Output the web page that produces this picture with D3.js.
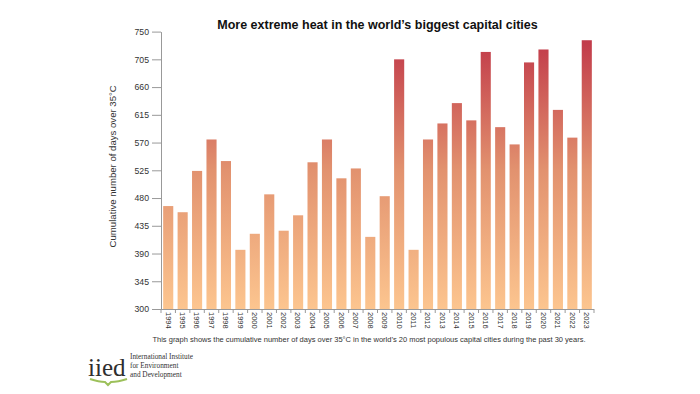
<!DOCTYPE html>
<html>
<head>
<meta charset="utf-8">
<script src="https://cdn.jsdelivr.net/npm/d3@7"></script>
<style>
  html, body { margin: 0; padding: 0; background: #fff; }
  svg { display: block; }
  text { font-family: "Liberation Sans", Arial, sans-serif; }
</style>
</head>
<body>
<div id="chart"></div>
<script>
// data
const years = ["1994", "1995", "1996", "1997", "1998", "1999", "2000", "2001", "2002", "2003",
  "2004", "2005", "2006", "2007", "2008", "2009", "2010", "2011", "2012", "2013",
  "2014", "2015", "2016", "2017", "2018", "2019", "2020", "2021", "2022", "2023"];
const hotDays = [467, 457, 524, 575, 540, 396, 422, 486, 427, 452,
  538, 575, 512, 528, 417, 483, 705, 396, 575, 601,
  634, 606, 717, 595, 567, 700, 721, 623, 578, 736];
const yTicks = [300, 345, 390, 435, 480, 525, 570, 615, 660, 705, 750];

const width = 700;
const height = 394;
const margin = { top: 31.6, right: 106, bottom: 85, left: 161 };

const svg = d3.select("#chart")
  .append("svg")
  .attr("width", width)
  .attr("height", height);

const x = d3.scaleBand()
  .domain(years)
  .range([margin.left, width - margin.right])
  .paddingInner(0.3)
  .paddingOuter(0.15);

const y = d3.scaleLinear()
  .domain([300, 750])
  .range([height - margin.bottom, margin.top]);

// vertical gradient shared by all bars
const grad = svg.append("defs").append("linearGradient")
  .attr("id", "heat")
  .attr("gradientUnits", "userSpaceOnUse")
  .attr("x1", 0).attr("x2", 0)
  .attr("y1", y(300)).attr("y2", y(750));
grad.selectAll("stop")
  .data([
    { o: "0%", c: "#fcc58f" },
    { o: "50%", c: "#e2926f" },
    { o: "100%", c: "#bf3447" }
  ])
  .enter().append("stop")
  .attr("offset", d => d.o)
  .attr("stop-color", d => d.c);

// title
svg.append("text")
  .attr("x", (x.range()[0] + x.range()[1]) / 2)
  .attr("y", 29)
  .attr("text-anchor", "middle")
  .style("font-size", "12.5px")
  .style("font-weight", "bold")
  .style("fill", "#111")
  .text("More extreme heat in the world\u2019s biggest capital cities");

// bars
svg.selectAll("rect.bar")
  .data(hotDays)
  .enter()
  .append("rect")
  .attr("class", "bar")
  .attr("x", (d, i) => x(years[i]))
  .attr("width", x.bandwidth())
  .attr("y", d => y(d))
  .attr("height", d => y(300) - y(d))
  .attr("fill", "url(#heat)");

// y axis
const yAxis = svg.append("g")
  .attr("transform", "translate(" + margin.left + ",0)")
  .call(d3.axisLeft(y).tickValues(yTicks).tickSize(9).tickSizeOuter(0).tickPadding(3));
yAxis.select(".domain").attr("stroke", "#999");
yAxis.selectAll(".tick line").attr("stroke", "#999");
yAxis.selectAll(".tick text")
  .style("font-size", "8.7px")
  .style("fill", "#333")
  .style("font-family", "Liberation Sans, Arial, sans-serif");

// x axis: labels at band centres, ticks at band edges
const xAxis = svg.append("g")
  .attr("transform", "translate(0," + y(300) + ")")
  .call(d3.axisBottom(x).tickSize(0).tickSizeOuter(0));
xAxis.select(".domain")
  .attr("stroke", "#999")
  .attr("d", "M" + margin.left + ",0.5H" + (width - margin.right));
xAxis.selectAll(".tick text")
  .attr("transform", "rotate(90)")
  .attr("x", 3)
  .attr("y", 0)
  .attr("dy", "0.35em")
  .style("text-anchor", "start")
  .style("font-size", "7.5px")
  .style("fill", "#333")
  .style("font-family", "Liberation Sans, Arial, sans-serif");

const edges = years.map(d => x(d) - x.step() * x.paddingOuter()).concat([x.range()[1]]);
svg.append("g")
  .selectAll("line")
  .data(edges)
  .enter().append("line")
  .attr("x1", d => d).attr("x2", d => d)
  .attr("y1", y(300)).attr("y2", y(300) + 4)
  .attr("stroke", "#999");

// y axis title
svg.append("text")
  .attr("transform", "translate(116," + ((y(300) + y(750)) / 2 - 4) + ") rotate(-90)")
  .attr("text-anchor", "middle")
  .style("font-size", "9.6px")
  .style("fill", "#333")
  .text("Cumulative number of days over 35\u00b0C");

// footnote
svg.append("text")
  .attr("x", 369)
  .attr("y", 342)
  .attr("text-anchor", "middle")
  .style("font-size", "7.5px")
  .style("fill", "#333")
  .text("This graph shows the cumulative number of days over 35\u00b0C in the world\u2019s 20 most populous capital cities during the past 30 years.");

// logo
const logo = svg.append("g");
logo.append("text")
  .attr("x", 88)
  .attr("y", 376)
  .style("font-family", "Liberation Serif, Times New Roman, serif")
  .style("font-size", "25px")
  .style("fill", "#2e2e2e")
  .text("iied");
logo.append("path")
  .attr("d", "M90,379 Q99,382 105,382 L108,385 L111,382 Q118,382 127,379")
  .attr("fill", "none")
  .attr("stroke", "#9cc05a")
  .attr("stroke-width", 2);
logo.selectAll("text.sub")
  .data(["International Institute", "for Environment", "and Development"])
  .enter().append("text")
  .attr("class", "sub")
  .attr("x", 130)
  .attr("y", (d, i) => 359 + i * 9)
  .style("font-family", "Liberation Serif, Times New Roman, serif")
  .style("font-size", "7.3px")
  .style("fill", "#333")
  .text(d => d);
</script>
</body>
</html>
